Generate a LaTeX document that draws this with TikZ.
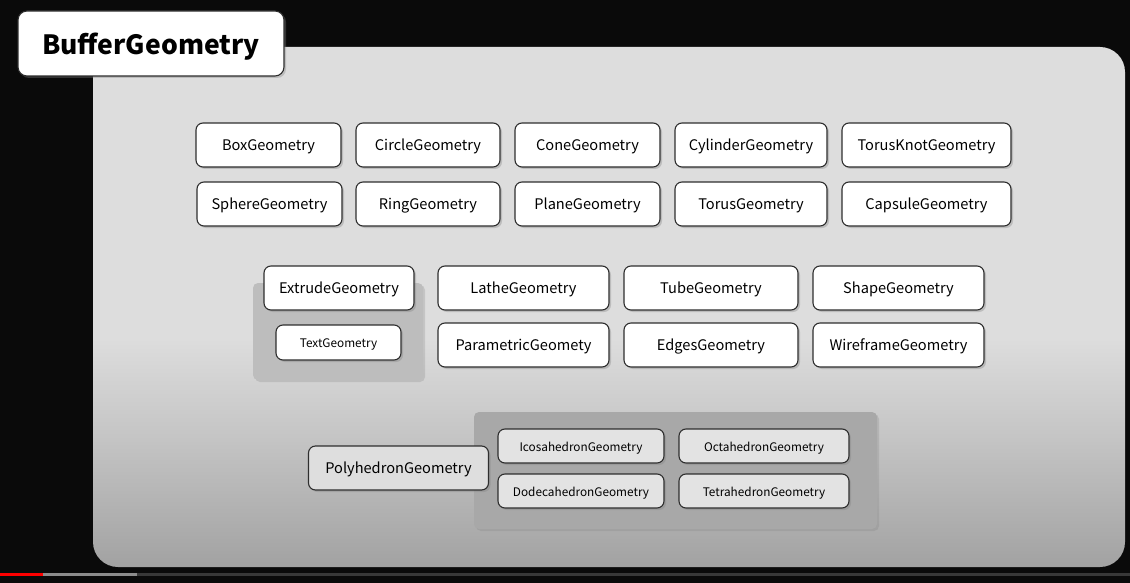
\documentclass[tikz,border=0pt]{standalone}
\usepackage{fontspec}
\setmainfont{Noto Sans CJK JP}
\usetikzlibrary{shadows}
\definecolor{bgblack}{HTML}{0A0A0A}
\definecolor{panelTop}{HTML}{DDDDDD}
\definecolor{panelMid}{HTML}{C6C6C6}
\definecolor{panelBot}{HTML}{A2A2A2}
\definecolor{edge}{HTML}{2E2E2E}
\pgfdeclareverticalshading{panelshade}{100bp}{color(0bp)=(panelBot); color(25bp)=(panelBot); color(38bp)=(panelMid); color(47bp)=(panelTop); color(100bp)=(panelTop)}
\tikzset{
  geo/.style={draw=edge, line width=1.1pt, fill=white, rounded corners=7pt,
    minimum height=44pt, inner sep=0pt, text height=1.05em, text depth=0pt,
    drop shadow={shadow xshift=2pt, shadow yshift=-2pt, opacity=0.35}},
  subgeo/.style={geo, minimum height=34pt, font=\fontsize{11.8}{14}\selectfont},
  grp/.style={rounded corners=5pt, inner sep=0pt,
    drop shadow={shadow xshift=2pt, shadow yshift=-2pt, opacity=0.25}}
}
\begin{document}
\begin{tikzpicture}[x=1pt, y=-1pt, font=\fontsize{14.6}{17}\selectfont]
\useasboundingbox (0,0) rectangle (1130,583);
\fill[bgblack] (0,0) rectangle (1130,583);
% panel
\shade[shading=panelshade, rounded corners=25pt] (93,47) rectangle (1125,567);
% progress bar
\fill[red] (0,573) rectangle (43,576);
\fill[black!45] (43,573) rectangle (137,576);
\fill[black!78] (137,573) rectangle (1130,576);
% title
\node[geo, fill=white, minimum width=266pt, minimum height=65pt, rounded corners=9pt,
  text height=22pt, font=\fontsize{26.5}{30}\bfseries] (buffer) at (151,43.5) {BufferGeometry};
% first two rows
\foreach \n/\t/\x/\w in {box/BoxGeometry/268.5/145, circle/CircleGeometry/428/144,
  cone/ConeGeometry/587.5/145, cylinder/CylinderGeometry/751/152,
  torusknot/TorusKnotGeometry/926.5/169}
  \node[geo, minimum width=\w pt] (\n) at (\x,145) {\t};
\foreach \n/\t/\x/\w in {sphere/SphereGeometry/269.5/145, ring/RingGeometry/428/144,
  plane/PlaneGeometry/587.5/145, torus/TorusGeometry/751/152,
  capsule/CapsuleGeometry/926.5/169}
  \node[geo, minimum width=\w pt] (\n) at (\x,204) {\t};
% extrude group
\node[grp, fill=black!26, minimum width=170pt, minimum height=97pt] (textgrp) at (338,331.5) {};
\node[geo, minimum width=150pt] (extrude) at (339,288) {ExtrudeGeometry};
\node[subgeo, minimum width=125pt, minimum height=35pt] (text) at (338.5,342.5) {TextGeometry};
\foreach \n/\t/\x/\w in {lathe/LatheGeometry/523.5/171, tube/TubeGeometry/711/174,
  shape/ShapeGeometry/898.5/171}
  \node[geo, minimum width=\w pt] (\n) at (\x,288) {\t};
\foreach \n/\t/\x/\w in {parametric/ParametricGeomety/523.5/171, edges/EdgesGeometry/711/174,
  wireframe/WireframeGeometry/898.5/171}
  \node[geo, minimum width=\w pt] (\n) at (\x,345) {\t};
% polyhedron group
\node[grp, fill=black!34, minimum width=403pt, minimum height=117pt] (polygrp) at (675.5,470.5) {};
\node[geo, fill=black!13, minimum width=180pt] (poly) at (398.5,468) {PolyhedronGeometry};
\node[subgeo, fill=black!11, minimum width=166pt] (ico) at (581,446) {IcosahedronGeometry};
\node[subgeo, fill=black!11, minimum width=170pt] (octa) at (764,446) {OctahedronGeometry};
\node[subgeo, fill=black!11, minimum width=166pt] (dodeca) at (581,491) {DodecahedronGeometry};
\node[subgeo, fill=black!11, minimum width=170pt] (tetra) at (764,491) {TetrahedronGeometry};
\end{tikzpicture}
\end{document}
